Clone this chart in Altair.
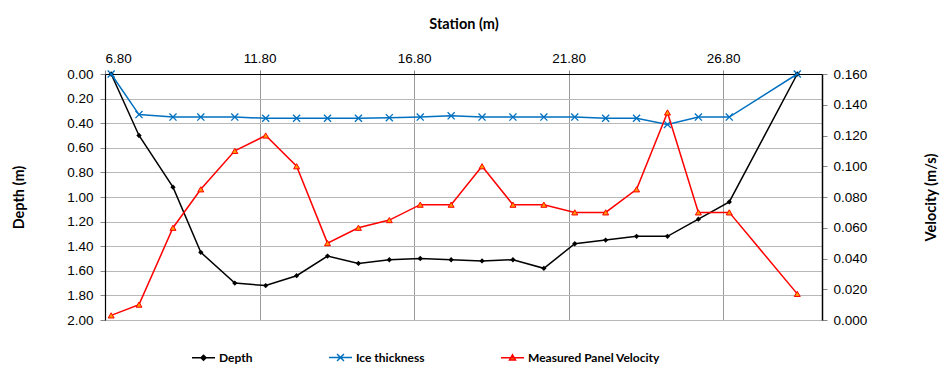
import altair as alt
import pandas as pd

# ---- data ----
stations = [7.0, 7.9, 9.0, 9.9, 11.0, 12.0, 13.0, 14.0, 15.0, 16.0, 17.0,
            18.0, 19.0, 20.0, 21.0, 22.0, 23.0, 24.0, 25.0, 26.0, 27.0, 29.2]
depth = [0.00, 0.50, 0.92, 1.45, 1.70, 1.72, 1.64, 1.48, 1.54, 1.51, 1.50,
         1.51, 1.52, 1.51, 1.58, 1.38, 1.35, 1.32, 1.32, 1.18, 1.04, 0.00]
ice = [0.00, 0.33, 0.35, 0.35, 0.35, 0.36, 0.36, 0.36, 0.36, 0.355, 0.35,
       0.34, 0.35, 0.35, 0.35, 0.35, 0.36, 0.36, 0.41, 0.35, 0.35, 0.00]
velocity = [0.003, 0.010, 0.060, 0.085, 0.110, 0.120, 0.100, 0.050, 0.060, 0.065, 0.075,
            0.075, 0.100, 0.075, 0.075, 0.070, 0.070, 0.085, 0.135, 0.070, 0.070, 0.017]

series_names = ["Depth", "Ice thickness", "Measured Panel Velocity"]
x_ticks = [6.8, 11.8, 16.8, 21.8, 26.8]
depth_ticks = [0.0, 0.2, 0.4, 0.6, 0.8, 1.0, 1.2, 1.4, 1.6, 1.8, 2.0]
vel_ticks = [0.0, 0.02, 0.04, 0.06, 0.08, 0.10, 0.12, 0.14, 0.16]

df = pd.DataFrame({"station": stations, "depth": depth, "ice": ice, "velocity": velocity})
legend_df = pd.DataFrame({"series": series_names})

BLACK = "#000000"
BLUE = "#0070C0"
RED = "#FF0000"
ORANGE = "#FF9900"
X_PATH = "M-1,-1L1,1M-1,1L1,-1"

x_enc = alt.X(
    "station:Q",
    scale=alt.Scale(domain=[6.8, 30.0], nice=False, zero=False),
    axis=alt.Axis(orient="top", title="Station (m)", values=x_ticks, format=".2f",
                  grid=True, gridColor="#9a9a9a", gridWidth=1,
                  tickSize=4, tickColor="#888888", domainColor=BLACK, domainWidth=1.2,
                  labelPadding=5, titlePadding=20),
)

depth_scale = alt.Scale(domain=[0, 2], reverse=True, nice=False, zero=False)
vel_scale = alt.Scale(domain=[0, 0.16], nice=False, zero=False)

depth_axis = alt.Axis(title="Depth (m)", values=depth_ticks, format=".2f",
                      grid=True, gridColor="#b8b8b8", gridWidth=1.2,
                      tickSize=5, tickColor="#888888", domainColor=BLACK, domainWidth=1.2,
                      labelPadding=7, titlePadding=40)
vel_axis = alt.Axis(title="Velocity (m/s)", orient="right", values=vel_ticks, format=".3f",
                    grid=False, tickSize=5, tickColor="#888888", domainColor=BLACK,
                    domainWidth=1.5, labelPadding=6, titlePadding=72, titleAngle=270)

base = alt.Chart(df)

depth_line = base.mark_line(color=BLACK, strokeWidth=1.5).encode(
    x=x_enc, y=alt.Y("depth:Q", scale=depth_scale, axis=depth_axis))
depth_pts = base.mark_point(shape="diamond", filled=True, color=BLACK, size=28, opacity=1).encode(
    x=x_enc, y=alt.Y("depth:Q", scale=depth_scale, axis=None))

ice_line = base.mark_line(color=BLUE, strokeWidth=1.5).encode(
    x=x_enc, y=alt.Y("ice:Q", scale=depth_scale, axis=None))
ice_pts = base.mark_point(shape=X_PATH, filled=False, color=BLUE, strokeWidth=1.3, size=50, opacity=1).encode(
    x=x_enc, y=alt.Y("ice:Q", scale=depth_scale, axis=None))

vel_line = base.mark_line(color=RED, strokeWidth=1.5).encode(
    x=x_enc, y=alt.Y("velocity:Q", scale=vel_scale, axis=vel_axis))
vel_pts = base.mark_point(shape="triangle-up", filled=True, fill=ORANGE, stroke=RED,
                          strokeWidth=1, size=36, opacity=1).encode(
    x=x_enc, y=alt.Y("velocity:Q", scale=vel_scale, axis=None))

leg = alt.Legend(orient="none", legendX=86, legendY=271, direction="horizontal", columns=3,
                 columnPadding=73, title=None, symbolSize=529, symbolStrokeWidth=1.5,
                 labelFont="Lato", labelFontWeight="bold", labelFontSize=12,
                 labelColor=BLACK, labelOffset=3)

legend_layer = alt.Chart(legend_df).mark_point(filled=True, opacity=1, strokeWidth=1.5).encode(
    fill=alt.Fill("series:N", scale=alt.Scale(domain=series_names, range=[BLACK, BLUE, ORANGE]), legend=leg),
    stroke=alt.Stroke("series:N", scale=alt.Scale(domain=series_names, range=[BLACK, BLUE, RED]), legend=leg),
    shape=alt.Shape("series:N", scale=alt.Scale(domain=series_names, range=[
        "M-1,0H1M-0.22,0L0,-0.22L0.22,0L0,0.22Z",
        "M-1,0H1M-0.3,-0.3L0.3,0.3M-0.3,0.3L0.3,-0.3",
        "M-1,0H1M0,-0.26L0.26,0.2L-0.26,0.2Z",
    ]), legend=leg),
).transform_filter("false")

chart = alt.layer(
    depth_line, depth_pts, ice_line, ice_pts, vel_line, vel_pts, legend_layer
).resolve_scale(
    y="independent"
).properties(
    width=717, height=246,
    autosize=alt.AutoSizeParams(type="none"),
    padding={"left": 97, "top": 66, "right": 121, "bottom": 46},
).configure_view(
    stroke=None
).configure_axis(
    labelFont="Liberation Sans", labelFontSize=13.5, labelColor=BLACK,
    titleFont="Lato", titleFontWeight="bold", titleFontSize=14.5, titleColor=BLACK,
)

chart.save("out.html", embed_options={"renderer": "svg", "actions": False})
